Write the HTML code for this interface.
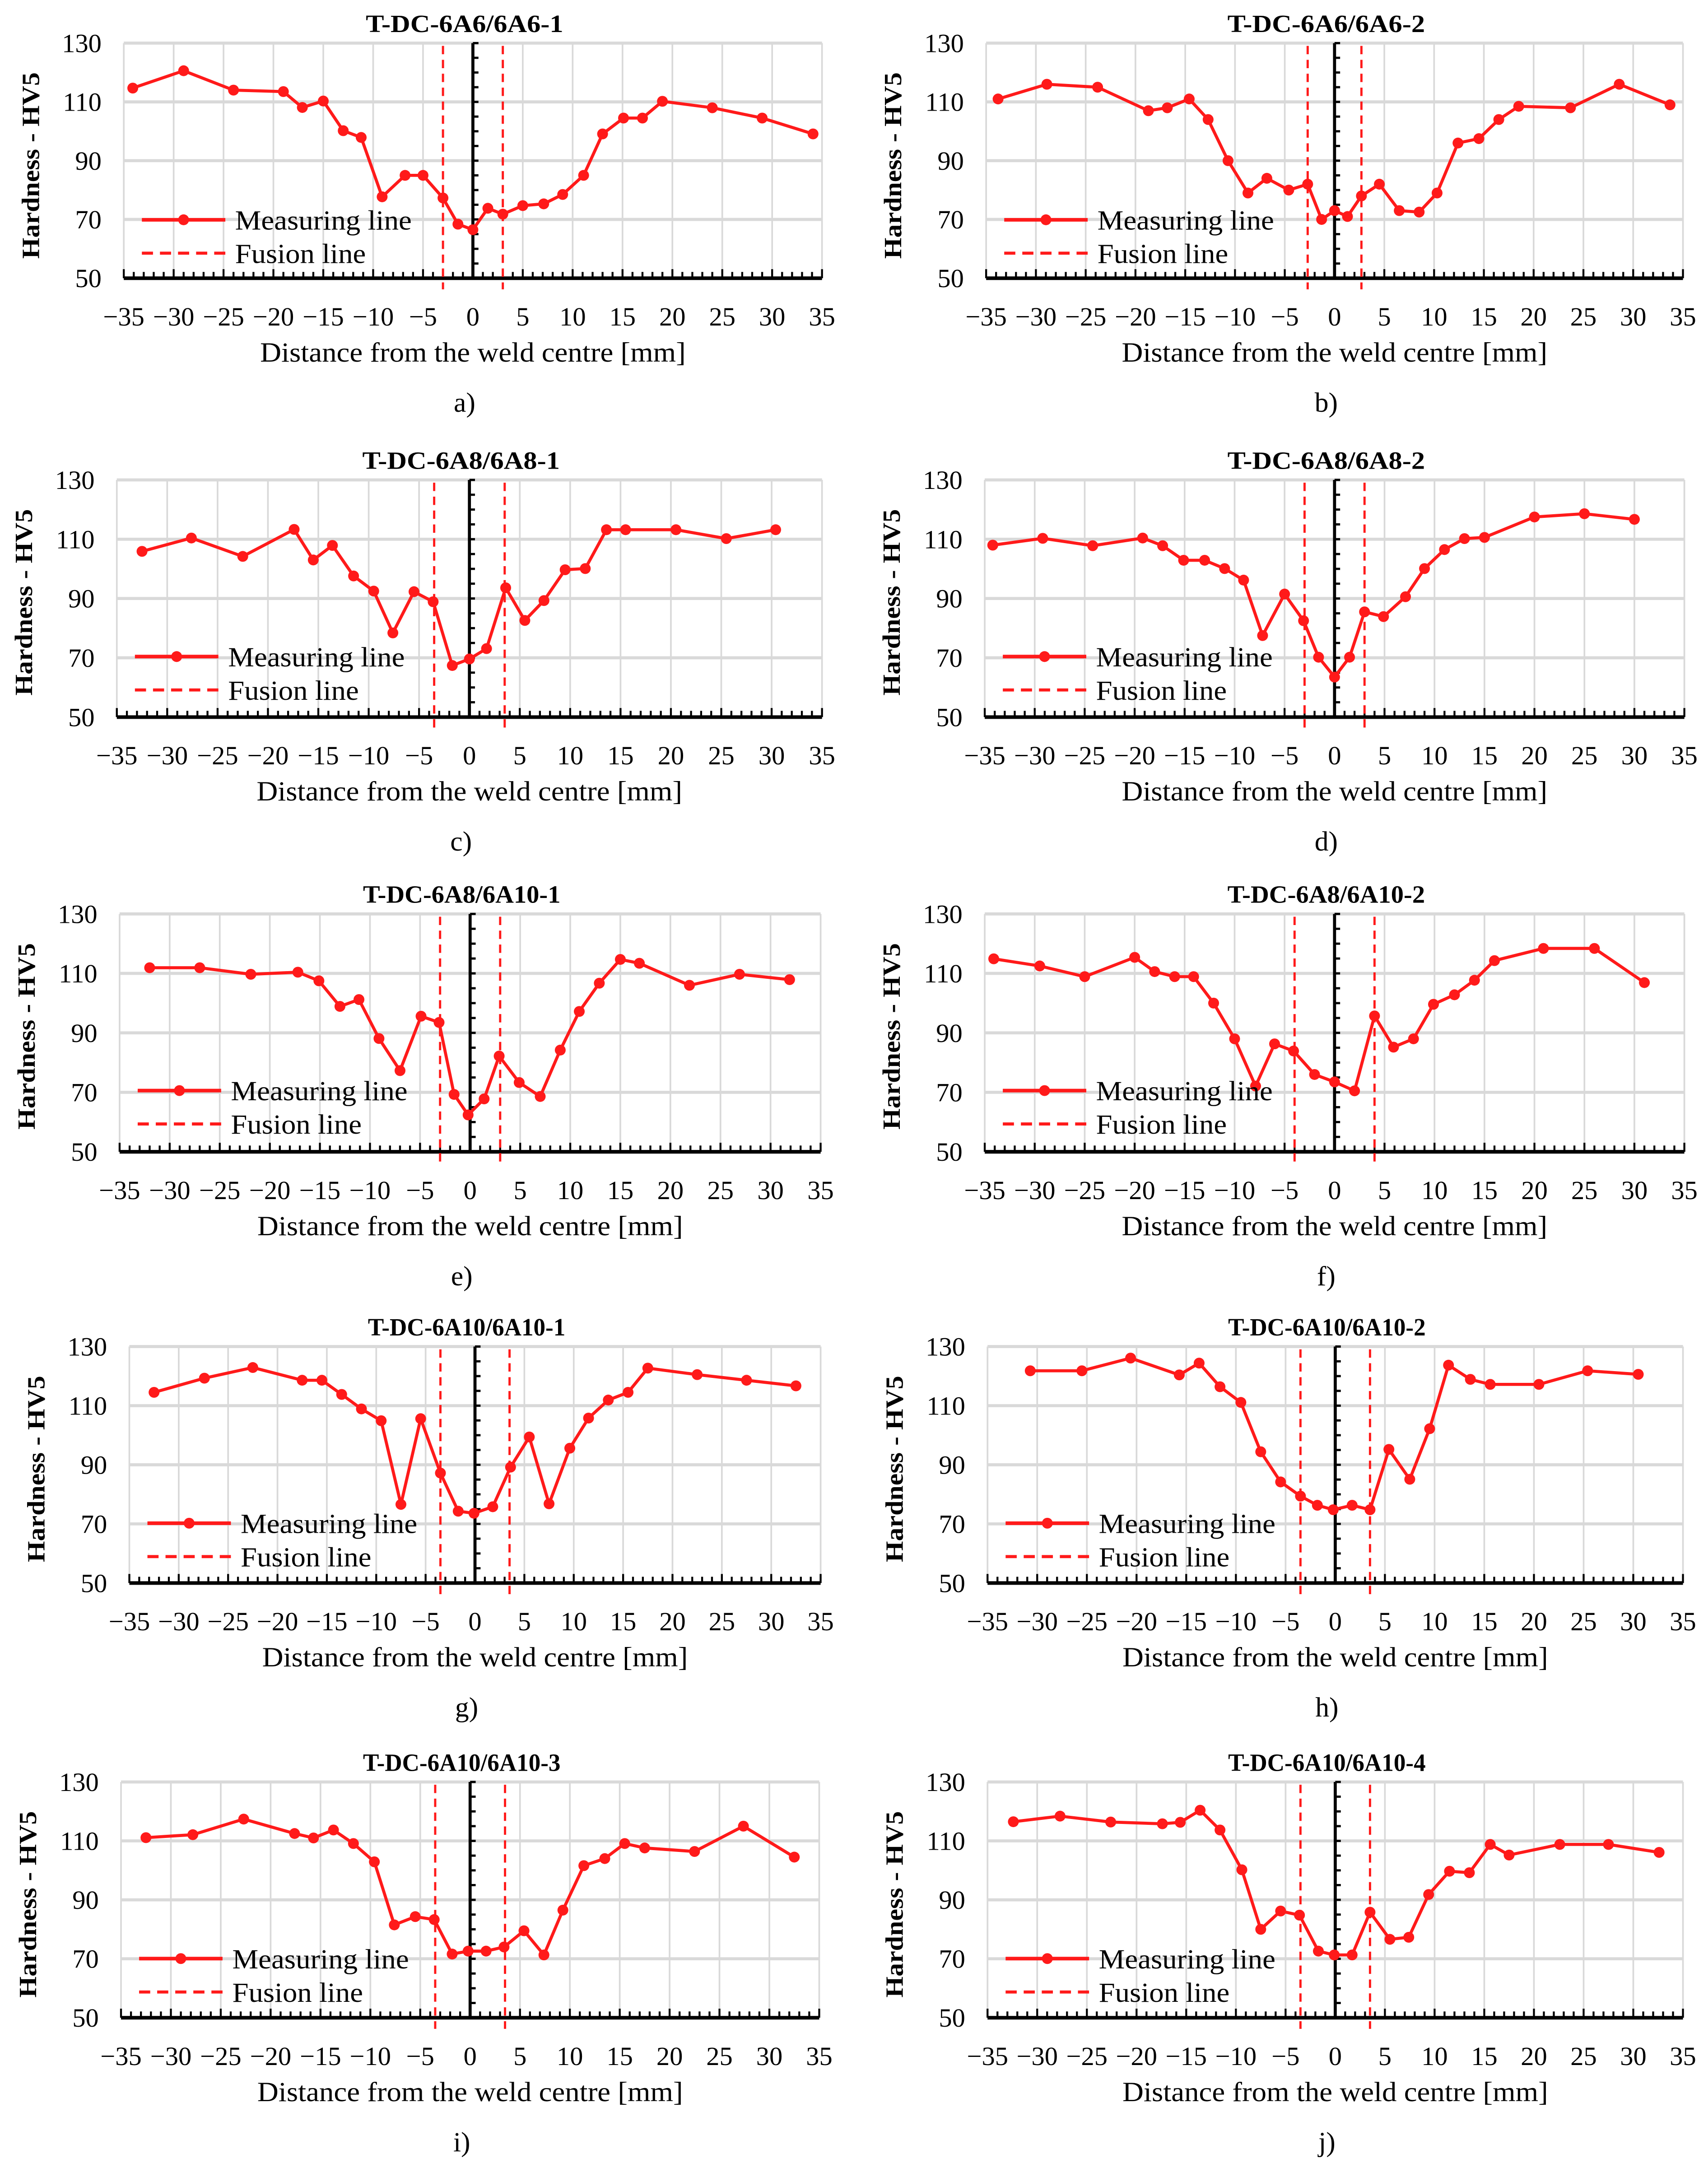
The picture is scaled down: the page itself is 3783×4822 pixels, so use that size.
<!DOCTYPE html>
<html><head><meta charset="utf-8"><title>Hardness profiles</title>
<style>
html,body{margin:0;padding:0;background:#fff;}
svg{display:block;}
text{font-family:"Liberation Serif",serif;fill:#000;}
</style></head>
<body>
<svg id="fig" xmlns="http://www.w3.org/2000/svg" width="3783" height="4822" viewBox="0 0 1228 1565" preserveAspectRatio="none">
<rect width="1228" height="1565" fill="#fff"/>
</svg>
<script>
// ---- data (distance mm / hardness HV5) ----
const aX=[-34.1,-29.0,-24.0,-19.0,-17.1,-15.0,-13.0,-11.2,-9.1,-6.8,-5.0,-3.0,-1.5,0,1.5,3.0,5.0,7.1,9.0,11.1,13.0,15.1,17.0,19.0,24.0,29.0,34.1];
const aY=[114.7,120.6,114,113.5,108.1,110.3,100.2,97.9,77.7,85,85,77.3,68.4,66.5,73.8,71.8,74.7,75.3,78.5,85,99.1,104.5,104.5,110.2,108,104.5,99.1];
const bX=[-33.8,-28.9,-23.8,-18.7,-16.8,-14.6,-12.7,-10.7,-8.7,-6.8,-4.6,-2.7,-1.3,0,1.3,2.7,4.5,6.5,8.5,10.3,12.4,14.5,16.5,18.5,23.7,28.6,33.7];
const bY=[111,116,115,107,108,111,104,90,79,84,80,82,70,73,71,78,82,73,72.5,79,96,97.5,104,108.5,108,116,109];
const cX=[-32.5,-27.6,-22.5,-17.4,-15.5,-13.6,-11.5,-9.5,-7.6,-5.5,-3.6,-1.7,0,1.7,3.6,5.5,7.4,9.5,11.5,13.6,15.5,20.5,25.5,30.4];
const cY=[105.9,110.4,104.2,113.3,103,107.9,97.6,92.5,78.4,92.3,88.9,67.4,69.6,73.1,93.6,82.6,89.3,99.7,100.1,113.2,113.2,113.2,110.2,113.2];
const dX=[-34.2,-29.2,-24.2,-19.2,-17.2,-15.1,-13.0,-11.0,-9.1,-7.2,-5.0,-3.1,-1.6,0,1.5,3.0,4.9,7.1,9.0,11.0,13.0,15.0,20.0,25.0,30.0];
const dY=[108,110.3,107.8,110.4,107.8,102.9,102.9,100.1,96.2,77.5,91.5,82.5,70.2,63.5,70.2,85.5,83.9,90.6,100.1,106.5,110.2,110.6,117.5,118.6,116.7];
const eX=[-32,-27,-21.9,-17.2,-15.1,-13.0,-11.1,-9.1,-7.0,-4.9,-3.1,-1.6,-0.2,1.4,2.9,4.9,7.0,9.0,10.9,12.9,15.0,16.9,21.9,26.9,31.9];
const eY=[111.9,111.9,109.7,110.4,107.5,98.9,101.2,88.1,77.3,95.6,93.5,69.3,62.4,67.8,82.2,73.3,68.6,84.2,97.2,106.7,114.7,113.4,106,109.7,107.9];
const fX=[-34.1,-29.5,-25.0,-20.0,-18.0,-16.0,-14.1,-12.1,-10.0,-7.9,-6.0,-4.1,-2.0,0,2.0,4.0,5.9,7.9,9.9,12.0,14.0,16.0,20.9,26.0,31.0];
const fY=[114.9,112.5,108.9,115.4,110.6,108.9,108.9,100,88,72.1,86.3,83.9,76,73.5,70.5,95.7,85.2,88,99.6,102.8,107.7,114.3,118.4,118.4,106.9];
const gX=[-32.5,-27.4,-22.5,-17.5,-15.5,-13.5,-11.5,-9.5,-7.5,-5.5,-3.5,-1.7,-0.1,1.8,3.6,5.5,7.5,9.6,11.5,13.5,15.5,17.5,22.5,27.5,32.5];
const gY=[114.5,119.3,122.9,118.6,118.6,113.8,108.9,104.9,76.6,105.6,87.2,74.3,73.6,75.8,89.2,99.4,76.8,95.6,105.8,111.9,114.5,122.7,120.5,118.6,116.7];
const hX=[-30.7,-25.5,-20.6,-15.7,-13.7,-11.6,-9.5,-7.5,-5.5,-3.5,-1.8,-0.2,1.7,3.5,5.4,7.5,9.5,11.4,13.6,15.6,20.5,25.4,30.5];
const hY=[121.8,121.8,126.1,120.4,124.4,116.4,111.1,94.4,84.2,79.4,76.3,74.8,76.3,74.8,95.2,85.1,102.2,123.7,118.9,117.2,117.2,121.8,120.6];
const iX=[-32.5,-27.8,-22.7,-17.6,-15.7,-13.7,-11.7,-9.6,-7.6,-5.5,-3.6,-1.8,-0.2,1.6,3.4,5.4,7.4,9.3,11.4,13.5,15.5,17.5,22.5,27.4,32.5];
const iY=[111.1,112.1,117.4,112.5,111,113.7,109.1,102.9,81.5,84.3,83.3,71.6,72.6,72.6,74.0,79.5,71.3,86.5,101.6,104.0,109.1,107.6,106.4,115,104.5];
const jX=[-32.4,-27.7,-22.6,-17.4,-15.6,-13.6,-11.6,-9.4,-7.5,-5.5,-3.6,-1.7,-0.1,1.7,3.5,5.5,7.4,9.4,11.5,13.5,15.6,17.5,22.6,27.5,32.6];
const jY=[116.5,118.4,116.4,115.8,116.3,120.4,113.7,100.2,80,86.2,84.8,72.6,71.3,71.3,85.8,76.6,77.3,91.8,99.7,99.2,108.8,105.2,108.8,108.8,106.1];
const fusionLines=[[-3,3],[-2.7,2.7],[-3.5,3.5],[-3,3],[-3,3],[-4,4],[-3.5,3.5],[-3.5,3.5],[-3.5,3.5],[-3.5,3.5]];
const titles=["T-DC-6A6/6A6-1","T-DC-6A6/6A6-2","T-DC-6A8/6A8-1","T-DC-6A8/6A8-2","T-DC-6A8/6A10-1","T-DC-6A8/6A10-2","T-DC-6A10/6A10-1","T-DC-6A10/6A10-2","T-DC-6A10/6A10-3","T-DC-6A10/6A10-4"];
const letters=["a)","b)","c)","d)","e)","f)","g)","h)","i)","j)"];
const xTicks=[-35,-30,-25,-20,-15,-10,-5,0,5,10,15,20,25,30,35];
const yTicks=[130,110,90,70,50];
const seriesX=[aX,bX,cX,dX,eX,fX,gX,hX,iX,jX];
const seriesY=[aY,bY,cY,dY,eY,fY,gY,hY,iY,jY];

// ---- layout ----
const frames=[[89,591,31,200],[709,1210,31,200],[84,591,345,515.5],[708,1211,345,515.5],[86,590,657,828],[708,1211,657,828],[93,590,968,1138],[710,1210,968,1138],[87,589,1281,1450.5],[710,1210,1281,1450.5]];
const NS="http://www.w3.org/2000/svg";
const svg=document.getElementById('fig');
function mk(tag,attrs,parent){const e=document.createElementNS(NS,tag);for(const k in attrs)e.setAttribute(k,attrs[k]);(parent||svg).appendChild(e);return e;}
const RED="#ff1a1a";

for(let p=0;p<10;p++){
  const [L,R,T,B]=frames[p];
  const sx=v=>L+(v+35)/70*(R-L);
  const sy=v=>T+(130-v)/80*(B-T);
  const cx=(L+R)/2;
  const g=mk('g',{});
  
  
  for(const t of xTicks){const l=mk('line',{x1:sx(t),x2:sx(t),y1:T,y2:B,stroke:'#d9d9d9','stroke-width':1.2},g);
    }
  for(const t of yTicks){if(t===50)continue;const l=mk('line',{x1:L,x2:R,y1:sy(t),y2:sy(t),stroke:'#d9d9d9','stroke-width':2.2},g);
    }
  for(const t of yTicks){const tx=mk('text',{x:L-16,y:sy(t)+6.5,'text-anchor':'end','font-size':19},g);tx.textContent=t;
    }
  const xa=mk('line',{x1:L,x2:R,y1:B,y2:B,stroke:'#000','stroke-width':2.6},g);
  
  for(let m=-35;m<=35;m++){const major=(m%5===0);
    const tk=mk('line',{x1:sx(m),x2:sx(m),y1:B,y2:B-(major?6.5:4.5),stroke:'#000','stroke-width':1.4},g);
    }
  for(const t of xTicks){const tx=mk('text',{x:sx(t),y:B+34,'text-anchor':'middle','font-size':19},g);tx.textContent=(t<0?'\u2212'+(-t):t);
    }
  const ya=mk('line',{x1:sx(0),x2:sx(0),y1:T,y2:B,stroke:'#000','stroke-width':2.2},g);
  
  for(let v=55;v<=130;v+=5){const tk=mk('line',{x1:sx(0),x2:sx(0)+4,y1:sy(v),y2:sy(v),stroke:'#000','stroke-width':1.6},g);
    }
  for(const f of fusionLines[p]){const l=mk('line',{x1:sx(f),x2:sx(f),y1:T+2,y2:B+8,stroke:RED,'stroke-width':1.6,'stroke-dasharray':'6 4'},g);
    }
  const xs=seriesX[p],ys=seriesY[p];
  const pts=xs.map((x,i)=>sx(x).toFixed(2)+','+sy(ys[i]).toFixed(2)).join(' ');
  const pl=mk('polyline',{points:pts,fill:'none',stroke:RED,'stroke-width':2.2,'stroke-linejoin':'round'},g);
  
  xs.forEach((x,i)=>{const c=mk('circle',{cx:sx(x),cy:sy(ys[i]),r:3.9,fill:RED},g);
    });
  const lg=mk('g',{},g);
  
  const l1=mk('line',{x1:L+13,x2:L+73,y1:T+127,y2:T+127,stroke:RED,'stroke-width':2.6},lg);
  
  const c1=mk('circle',{cx:L+43,cy:T+127,r:3.9,fill:RED},lg);
  
  const t1=mk('text',{x:L+80,y:T+134,'font-size':20,textLength:127,lengthAdjust:'spacingAndGlyphs'},lg);t1.textContent='Measuring line';
  
  const l2=mk('line',{x1:L+13,x2:L+73,y1:T+151,y2:T+151,stroke:RED,'stroke-width':2.2,'stroke-dasharray':'8 5'},lg);
  
  const t2=mk('text',{x:L+80,y:T+158,'font-size':20,textLength:94,lengthAdjust:'spacingAndGlyphs'},lg);t2.textContent='Fusion line';
  
  const tt=mk('text',{x:cx-6,y:T-8,'text-anchor':'middle','font-size':18,'font-weight':'bold',textLength:142,lengthAdjust:'spacingAndGlyphs'},g);tt.textContent=titles[p];
  
  const xt=mk('text',{x:cx,y:B+60,'text-anchor':'middle','font-size':20,textLength:306,lengthAdjust:'spacingAndGlyphs'},g);xt.textContent='Distance from the weld centre [mm]';
  
  const yt=mk('text',{x:0,y:0,'text-anchor':'middle','font-size':18,'font-weight':'bold',textLength:134,lengthAdjust:'spacingAndGlyphs',transform:'translate('+(L-61)+','+(T+88)+') rotate(-90)'},g);yt.textContent='Hardness - HV5';
  
  const lt=mk('text',{x:cx-6,y:B+96,'text-anchor':'middle','font-size':20},g);lt.textContent=letters[p];
  
}
</script>
</body></html>
